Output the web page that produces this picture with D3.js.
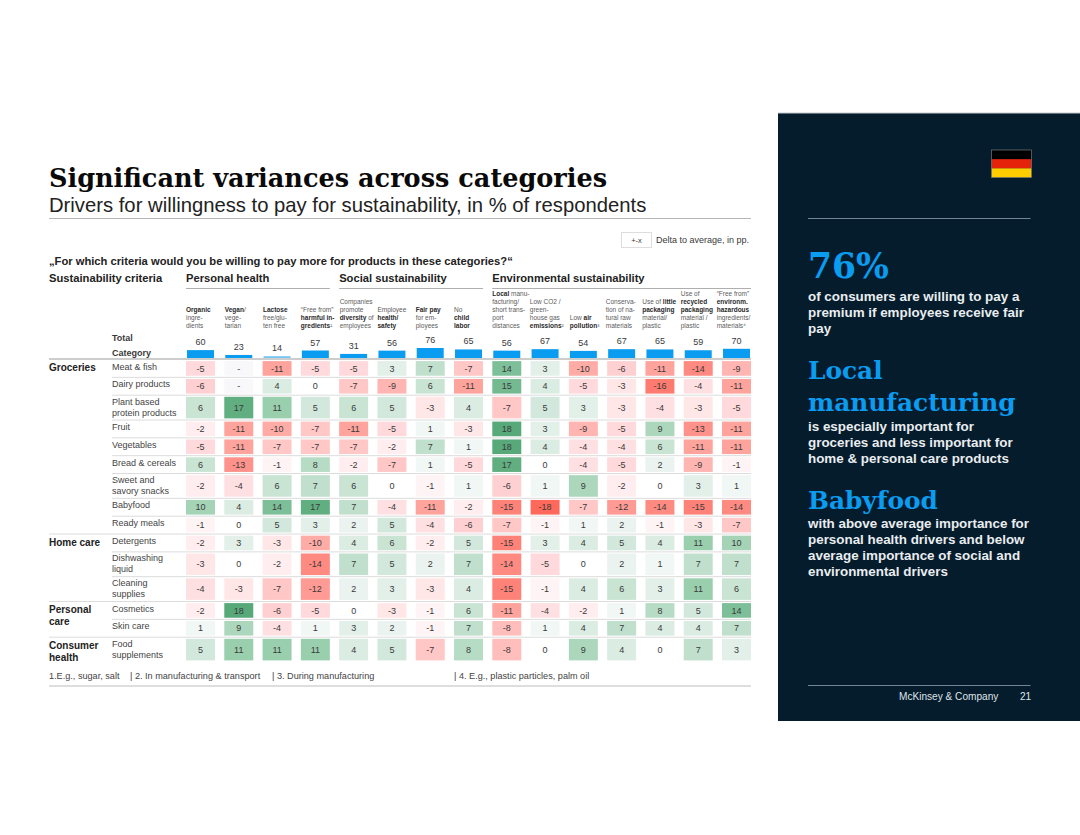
<!DOCTYPE html>
<html><head><meta charset="utf-8">
<script src="https://cdn.jsdelivr.net/npm/d3@7"></script>
<style>html,body{margin:0;padding:0;background:#fff}svg{display:block}text{font-family:"Liberation Sans",Arial,sans-serif}</style>
</head><body><div id="c"></div>
<script>
const criteria=[
["*Organic*","ingre-","dients"],["*Vegan*/","vege-","tarian"],["*Lactose*","free/glu-","ten free"],
["“Free from”","*harmful in-*","*gredients*¹"],["Companies","promote","*diversity* of","employees"],
["Employee","*health/*","*safety*"],["*Fair pay*","for em-","ployees"],["No","*child*","*labor*"],
["*Local* manu-","facturing/","short trans-","port","distances"],["Low CO2 /","green-","house gas","*emissions*²"],
["Low *air*","*pollution*³"],["Conserva-","tion of na-","tural raw","materials"],
["Use of *little*","*packaging*","material/","plastic"],["Use of","*recycled*","*packaging*","material /","plastic"],
["“Free from”","*environm.*","*hazardous*","ingredients/","materials⁴"]];
const totals=[60,23,14,57,31,56,76,65,56,67,54,67,65,59,70];
const rowLabels=[["Meat & fish"],["Dairy products"],["Plant based","protein products"],["Fruit"],["Vegetables"],["Bread & cereals"],["Sweet and","savory snacks"],["Babyfood"],["Ready meals"],["Detergents"],["Dishwashing","liquid"],["Cleaning","supplies"],["Cosmetics"],["Skin care"],["Food","supplements"]];
const values=[
[-5,null,-11,-5,-5,3,7,-7,14,3,-10,-6,-11,-14,-9],
[-6,null,4,0,-7,-9,6,-11,15,4,-5,-3,-16,-4,-11],
[6,17,11,5,6,5,-3,4,-7,5,3,-3,-4,-3,-5],
[-2,-11,-10,-7,-11,-5,1,-3,18,3,-9,-5,9,-13,-11],
[-5,-11,-7,-7,-7,-2,7,1,18,4,-4,-4,6,-11,-11],
[6,-13,-1,8,-2,-7,1,-5,17,0,-4,-5,2,-9,-1],
[-2,-4,6,7,6,0,-1,1,-6,1,9,-2,0,3,1],
[10,4,14,17,7,-4,-11,-2,-15,-18,-7,-12,-14,-15,-14],
[-1,0,5,3,2,5,-4,-6,-7,-1,1,2,-1,-3,-7],
[-2,3,-3,-10,4,6,-2,5,-15,3,4,5,4,11,10],
[-3,0,-2,-14,7,5,2,7,-14,-5,0,2,1,7,7],
[-4,-3,-7,-12,2,3,-3,4,-15,-1,4,6,3,11,6],
[-2,18,-6,-5,0,-3,-1,6,-11,-4,-2,1,8,5,14],
[1,9,-4,1,3,2,-1,7,-8,1,4,7,4,4,7],
[5,11,11,11,4,5,-7,8,-8,0,9,4,0,7,3]];
const groups=[{name:["Groceries"],start:0},{name:["Home care"],start:9},{name:["Personal","care"],start:12},{name:["Consumer","health"],start:14}];
const pillars=[{name:"Personal health",from:0,to:3},{name:"Social sustainability",from:4,to:7},{name:"Environmental sustainability",from:8,to:14}];
const footnotes=["1.E.g., sugar, salt","| 2. In manufacturing & transport","| 3. During manufacturing","| 4. E.g., plastic particles, palm oil"];
const flagColors=["#000000","#e5230b","#ffcc00"];
const sideBlocks=[
{head:["76%"],body:["of consumers are willing to pay a","premium if employees receive fair","pay"]},
{head:["Local","manufacturing"],body:["is especially important for","groceries and less important for","home & personal care products"]},
{head:["Babyfood"],body:["with above average importance for","personal health drivers and below","average importance of social and","environmental drivers"]}];

// layout
const footX=[49,130,272,454];
const headNudge=[0,0.5,0.4,0,0.5,0,0,0,0,-0.8,1,-1.4,-3.2,-3,-5.3];
const sideLayout=[{size:34.6,y:[278],body:296},{size:24.8,y:[379,411],body:426},{size:24.8,y:[509],body:523}];
const W=1080,H=835;
const svg=d3.select("#c").append("svg").attr("width",W).attr("height",H);
const SANS='"Liberation Sans",Arial,sans-serif',SERIF='"DejaVu Serif",Georgia,serif';
const ink="#3a3a3a";
function t(x,y,s,o={}){return svg.append("text").attr("x",x).attr("y",y).text(s)
 .attr("font-size",o.size||9).attr("font-weight",o.weight||"normal").attr("fill",o.fill||ink)
 .attr("text-anchor",o.anchor||"start").style("font-family",o.family||SANS);}
function hl(x1,x2,y,c,w){svg.append("line").attr("x1",x1).attr("x2",x2).attr("y1",y).attr("y2",y).attr("stroke",c).attr("stroke-width",w);}

// header
t(49,187,"Significant variances across categories",{size:25.55,weight:"bold",family:SERIF,fill:"#0a0a0a"});
t(49,212,"Drivers for willingness to pay for sustainability, in % of respondents",{size:20.26,fill:"#222"});
hl(49,751,218.5,"#b5b5b5",1);
svg.append("rect").attr("x",621.5).attr("y",232.5).attr("width",30).attr("height",15).attr("fill","#fff").attr("stroke","#ddd");
t(636.5,243,"+-x",{size:7.5,anchor:"middle"});
t(656,243,"Delta to average, in pp.",{size:9});
t(49,265,"„For which criteria would you be willing to pay more for products in these categories?“",{size:11.2,weight:"bold",fill:"#222"});
t(49,282,"Sustainability criteria",{size:11.2,weight:"bold",fill:"#222"});

// scales
const x=d3.scaleBand().domain(d3.range(criteria.length)).range([186,751]).paddingInner(0.243).paddingOuter(0);
const rowUnits=rowLabels.map(l=>l.length>1?1.39:1);
const cum=[0,...d3.cumsum(rowUnits)];
const y=d3.scaleLinear().domain([0,cum[cum.length-1]]).range([359.5,662]);
const barH=d3.scaleLinear().domain([0,76]).range([0,10]);
const color=d3.scaleLinear().domain([-18,-11,-5,-1,0,1,5,11,18]).range(["#ff695c","#ffa39d","#ffd9db","#fff4f5","#ffffff","#f1f7f5","#d3e8dc","#9acfae","#57a97a"]);

// pillars
pillars.forEach(p=>{
 t(x(p.from),282,p.name,{size:11.2,weight:"bold",fill:"#222"});
 hl(x(p.from),x(p.to)+x.bandwidth(),288.5,"#9a9a9a",0.8);
});
// criteria headers
criteria.forEach((lines,i)=>{
 lines.forEach((ln,j)=>{
  const yy=328.3-(lines.length-1-j)*8.05;
  const el=svg.append("text").attr("x",x(i)+headNudge[i]).attr("y",yy).attr("font-size",6.5).attr("fill","#555");
  ln.split("*").forEach((seg,k)=>{ if(seg) el.append("tspan").text(seg).attr("font-weight",k%2?"bold":"normal").attr("fill",k%2?"#2a2a2a":"#5c5c5c");});
 });
});
t(112,340.5,"Total",{size:9,weight:"bold"});
t(112,355.5,"Category",{size:9,weight:"bold"});

// total bars
svg.append("g").selectAll("rect").data(totals).join("rect")
 .attr("x",(d,i)=>x(i)+1).attr("width",x.bandwidth()-2)
 .attr("y",d=>358-barH(d)).attr("height",d=>barH(d)).attr("fill",d=>d<20?"#7cc6f2":"#0a9cf0");
svg.append("g").selectAll("text").data(totals).join("text")
 .attr("x",(d,i)=>x(i)+x.bandwidth()/2).attr("y",d=>358-barH(d)-5).attr("text-anchor","middle")
 .attr("font-size",9).attr("fill",ink).text(d=>d);
hl(49,751,359,"#bdbdbd",1.4);

// separators
const groupStarts=new Set(groups.map(g=>g.start));
d3.range(1,rowLabels.length).forEach(r=>{
 hl(groupStarts.has(r)?49:112,751,y(cum[r]),"#dcdcdc",1);
});

// cells
values.forEach((row,r)=>{
 const top=y(cum[r])+1.6,h=y(cum[r+1])-y(cum[r])-3.2;
 const g=svg.append("g");
 g.selectAll("rect").data(row).join("rect")
  .attr("x",(d,i)=>x(i)).attr("y",top).attr("width",x.bandwidth()).attr("height",h)
  .attr("fill",d=>d===null?"#f8f8fb":color(d));
 g.selectAll("text").data(row).join("text")
  .attr("x",(d,i)=>x(i)+x.bandwidth()/2).attr("y",top+h/2+3.2).attr("text-anchor","middle")
  .attr("font-size",9).attr("fill",ink).text(d=>d===null?"-":d);
 const ls=rowLabels[r];
 ls.forEach((l,j)=>t(112,y(cum[r])+(ls.length>1?9.5:10)+j*11,l,{size:9,fill:"#444"}));
});
// group labels
groups.forEach(g=>{
 g.name.forEach((n,j)=>t(49,y(cum[g.start])+11.5+j*12,n,{size:10,weight:"bold",fill:"#222"}));
});
// footnotes
footnotes.forEach((f,i)=>t(footX[i],679,f,{size:9.15,fill:"#444"}));
hl(49,751,686,"#bdbdbd",1.2);

// side panel
svg.append("rect").attr("x",778).attr("y",113).attr("width",302).attr("height",608).attr("fill","#051c2c");
hl(778,1080,113,"#c4c9ce",1);
const flagBand=d3.scaleBand().domain(d3.range(3)).range([150,177.5]);
svg.append("g").selectAll("rect").data(flagColors).join("rect").attr("x",991.5).attr("width",40).attr("y",(d,i)=>flagBand(i)).attr("height",flagBand.bandwidth()).attr("fill",d=>d);
svg.append("rect").attr("x",991.5).attr("y",150).attr("width",40).attr("height",27.5).attr("fill","none").attr("stroke","#777").attr("stroke-width",.7);
hl(808,1030.5,218.5,"#8fa0ae",.8);
sideBlocks.forEach((b,n)=>{
 const L=sideLayout[n];
 b.head.forEach((h,i)=>t(808,L.y[i],h,{size:L.size,weight:"bold",family:SERIF,fill:"#0a9cf0"}));
 b.body.forEach((s,i)=>t(808,L.body+4.5+i*16,s,{size:13.4,weight:"bold",fill:"#e9edf0"}));
});
hl(808,1030.5,685.5,"#8fa0ae",.8);
t(899,700,"McKinsey & Company",{size:10.1,fill:"#dfe4e8"});
t(1020,700,"21",{size:10.1,fill:"#dfe4e8"});
</script></body></html>
